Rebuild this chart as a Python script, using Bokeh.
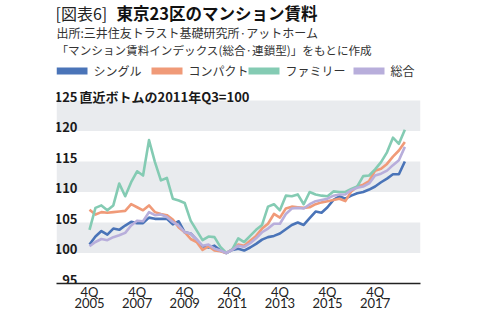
from bokeh.plotting import figure
from bokeh.models import Range1d, FixedTicker, Label, BoxAnnotation, LinearAxis
from bokeh.core.properties import value
from bokeh.embed import file_html
from bokeh.resources import INLINE

# ---------------- data ----------------
quarters = [f"{y}Q{q}" for y in range(2005, 2020) for q in range(1, 5)][3:57]

single = [101.4, 102.7, 103.6, 103.0, 104.0, 103.8, 104.5, 105.1, 104.9, 104.9,
          105.8, 105.6, 105.6, 105.6, 104.7, 105.2, 103.4, 103.2, 102.2, 101.1,
          100.9, 101.2, 100.4, 100.0, 100.5, 100.7, 100.4, 100.9, 101.5, 102.2,
          102.6, 102.8, 103.2, 103.9, 104.6, 105.0, 104.6, 105.7, 106.8, 106.6,
          107.5, 108.7, 109.3, 108.9, 109.4, 109.8, 110.0, 110.4, 110.9, 111.6,
          112.2, 112.9, 112.9, 115.0]
compact = [107.1, 106.3, 106.7, 106.6, 106.7, 106.8, 106.9, 108.0, 107.5, 107.0,
           107.8, 106.7, 106.4, 106.2, 105.5, 104.2, 103.4, 102.3, 101.8, 100.5,
           101.1, 100.4, 100.3, 100.0, 100.6, 101.4, 101.2, 102.0, 102.8, 104.0,
           104.8, 106.4, 105.8, 107.3, 107.6, 107.5, 107.4, 107.5, 108.0, 108.3,
           108.5, 108.7, 108.9, 108.5, 110.1, 110.9, 111.2, 111.8, 113.5, 113.8,
           114.6, 115.8, 116.8, 118.2]
family = [103.8, 107.4, 107.8, 107.0, 107.8, 111.4, 109.3, 111.6, 113.4, 112.7,
          118.5, 114.9, 111.9, 112.3, 108.9, 108.6, 108.2, 105.3, 103.7, 102.1,
          102.7, 102.6, 101.0, 100.0, 100.6, 102.4, 101.8, 102.8, 103.8, 104.6,
          107.6, 108.0, 107.0, 109.4, 109.3, 109.6, 108.0, 110.0, 109.6, 109.4,
          109.3, 110.1, 110.0, 110.0, 110.5, 110.9, 112.6, 112.7, 113.7, 114.9,
          116.5, 118.9, 117.9, 120.2]
total = [101.1, 101.8, 102.3, 102.1, 102.6, 102.9, 103.3, 104.5, 105.3, 105.2,
         106.7, 106.2, 106.3, 105.9, 105.1, 104.5, 103.4, 103.2, 102.2, 101.2,
         101.4, 100.7, 100.4, 100.0, 100.5, 101.2, 101.0, 101.6, 102.4, 103.4,
         104.0, 104.8, 104.8, 106.4, 107.3, 107.4, 107.3, 108.0, 108.5, 108.7,
         108.9, 109.4, 109.6, 109.6, 110.3, 110.7, 110.9, 111.4, 112.7, 113.0,
         113.5, 114.4, 115.2, 117.4]

series_names = ["シングル", "コンパクト", "ファミリー", "総合"]
series_values = [single, compact, family, total]
series_colors = ["#4a74b8", "#f09a78", "#84cbb3", "#b8aedb"]

y_ticks = [95, 100, 105, 110, 115, 120, 125]
y_tick_labels = ["95", "100", "105", "110", "115", "120", "125"]
band_bottoms = [100, 110, 120]
band_tops = [105, 115, 125]

x_tick_idx = [0, 8, 16, 24, 32, 40, 48]
x_tick_quarter = ["4Q"] * 7
x_tick_year = ["2005", "2007", "2009", "2011", "2013", "2015", "2017"]

title_tag = "[図表6]"
title_main = "東京23区のマンション賃料"
source_line1 = "出所:三井住友トラスト基礎研究所·アットホーム"
source_line2 = "「マンション賃料インデックス(総合·連鎖型)」をもとに作成"
unit_note = "直近ボトムの2011年Q3=100"

# ---------------- layout ----------------
FONT = "Noto Sans CJK JP"
XFONT = "Lato"
W, H = 479, 323
FL, FR, FT, FB = 56, 420, 0, 283
X0, PXQ = 89.0, 5.95
PXU = 6.1

x_idx = list(range(len(quarters)))
x_range = Range1d(-(X0 - FL) / PXQ, (FR - X0) / PXQ)
y_range = Range1d(95, 95 + (FB - FT) / PXU)

p = figure(width=W, height=H, x_range=x_range, y_range=y_range,
           output_backend="svg", toolbar_location=None, y_axis_location=None)
p.min_border = 0
p.min_border_left = FL
p.min_border_right = W - FR
p.min_border_top = FT
p.min_border_bottom = H - FB
p.outline_line_color = None
p.xgrid.visible = False
p.ygrid.visible = False
p.background_fill_color = "white"
p.border_fill_color = "white"

# bands
p.quad(left=x_range.start, right=x_range.end, bottom=band_bottoms, top=band_tops,
       fill_color="#e9ebee", line_color=None)

# lines
for vals, col in zip(series_values, series_colors):
    p.line(x=x_idx, y=vals, line_color=col, line_width=2.6, line_join="round")

# y tick labels inside the frame
p.text(x=[x_range.start] * len(y_ticks), y=y_ticks, text=y_tick_labels,
       text_align="right", text_baseline="alphabetic", x_offset=21, y_offset=-4,
       text_font=value(FONT), text_font_size="13px", text_font_style="bold",
       text_color="#1a1a1a")
p.text(x=[x_range.start], y=[y_ticks[-1]], text=[unit_note],
       text_align="left", text_baseline="alphabetic", x_offset=23, y_offset=-4,
       text_font=value(FONT), text_font_size="13px", text_font_style="bold",
       text_color="#1a1a1a")

# x axes: quarter row (with axis line) and year row
ax = p.xaxis[0]
ax.ticker = FixedTicker(ticks=x_tick_idx)
ax.major_label_overrides = dict(zip(x_tick_idx, x_tick_quarter))
ax.major_label_text_font = XFONT
ax.major_label_text_font_size = "13px"
ax.major_label_text_color = "#222222"
ax.major_label_standoff = 0
ax.major_tick_line_color = None
ax.major_tick_out = 0
ax.major_tick_in = 0
ax.minor_tick_line_color = None
ax.axis_line_color = "#222222"
ax.axis_line_width = 1.5

ax2 = LinearAxis(ticker=FixedTicker(ticks=x_tick_idx),
                 major_label_overrides=dict(zip(x_tick_idx, x_tick_year)))
ax2.major_label_text_font = XFONT
ax2.major_label_text_font_size = "13px"
ax2.major_label_text_color = "#222222"
ax2.major_label_standoff = -5
ax2.major_tick_line_color = None
ax2.major_tick_out = 0
ax2.major_tick_in = 0
ax2.minor_tick_line_color = None
ax2.axis_line_color = None
p.add_layout(ax2, "below")


def add_label(text, cx, cy, size, style="normal", color="#222222"):
    p.add_layout(Label(x=cx - FL, y=FB - cy, x_units="screen", y_units="screen",
                       text=text, text_font=FONT, text_font_size=size,
                       text_font_style=style, text_color=color,
                       text_align="left", text_baseline="middle"))


add_label(title_tag, 55, 12.5, "16px", "normal", "#222222")
add_label(title_main, 116, 12.5, "16.5px", "bold", "#111111")
add_label(source_line1, 56, 31.5, "12px", "normal", "#333333")
add_label(source_line2, 56, 49, "11.6px", "normal", "#333333")

legend_x = [56, 151, 248, 353]
for name, col, lx in zip(series_names, series_colors, legend_x):
    p.add_layout(BoxAnnotation(left=lx - FL, right=lx + 31 - FL,
                               bottom=FB - 74, top=FB - 67,
                               left_units="screen", right_units="screen",
                               bottom_units="screen", top_units="screen",
                               fill_color=col, fill_alpha=1.0, line_color=None))
    add_label(name, lx + 37, 69.5, "12px", "normal", "#333333")

open("out.html", "w").write(file_html(p, INLINE))
